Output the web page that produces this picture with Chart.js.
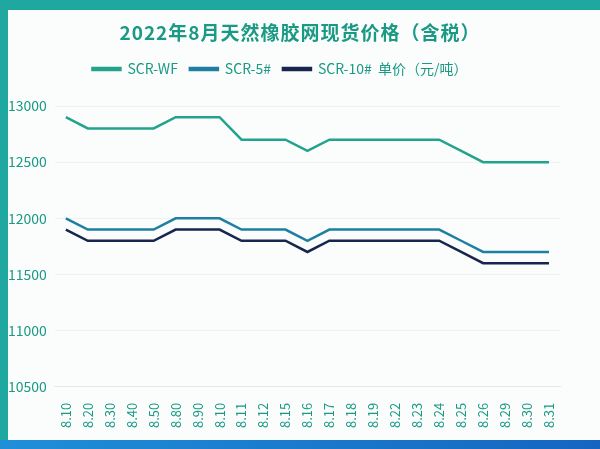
<!DOCTYPE html>
<html><head><meta charset="utf-8">
<script src="https://cdn.jsdelivr.net/npm/chart.js@4"></script>
<style>
html,body{margin:0;padding:0;width:600px;height:449px;overflow:hidden;background:#1fa8a0;}
#wrap{position:absolute;left:8px;top:10px;width:592px;height:430px;background:#fbfdfd;}
#bottom{position:absolute;left:0;top:440px;width:600px;height:9px;background:linear-gradient(90deg,#1f8fd8,#1565c0);}
h1{position:absolute;left:0;top:18px;width:600px;margin:0;text-align:center;font:bold 19px "Noto Sans CJK SC";color:#1a9a84;letter-spacing:1px;}
#c{position:absolute;left:0;top:0;}
</style></head><body>
<div id="wrap"></div><div id="bottom"></div>
<canvas id="c" width="600" height="449"></canvas>
<h1>2022年8月天然橡胶网现货价格（含税）</h1>
<script>
const labels = ['8.10','8.20','8.30','8.40','8.50','8.80','8.90','8.10','8.11','8.12','8.15','8.16','8.17','8.18','8.19','8.22','8.23','8.24','8.25','8.26','8.29','8.30','8.31'];
const scrWF = [12900,12800,12800,12800,12800,12900,12900,12900,12700,12700,12700,12600,12700,12700,12700,12700,12700,12700,12600,12500,12500,12500,12500];
const scr5 = [12000,11900,11900,11900,11900,12000,12000,12000,11900,11900,11900,11800,11900,11900,11900,11900,11900,11900,11800,11700,11700,11700,11700];
const scr10 = [11900,11800,11800,11800,11800,11900,11900,11900,11800,11800,11800,11700,11800,11800,11800,11800,11800,11800,11700,11600,11600,11600,11600];
const yTicks = [10500,11000,11500,12000,12500,13000];

const green = '#1a9a84';

// extra space under the legend
const legendGap = {
  id: 'legendGap',
  beforeInit(chart) {
    const fit = chart.legend.fit;
    chart.legend.fit = function () { fit.call(this); this.height += 20; };
  },
};

new Chart(document.getElementById('c'), {
  type: 'line',
  data: {
    labels,
    datasets: [
      { label: 'SCR-WF', data: scrWF, borderColor: '#22a48c', backgroundColor: '#22a48c' },
      { label: 'SCR-5#', data: scr5, borderColor: '#1f7fa3', backgroundColor: '#1f7fa3' },
      { label: 'SCR-10#  单价（元/吨）', data: scr10, borderColor: '#17254f', backgroundColor: '#17254f' },
    ].map(d => ({ ...d, borderWidth: 2.5, pointRadius: 0, tension: 0, fill: false })),
  },
  plugins: [legendGap],
  options: {
    responsive: false,
    animation: false,
    layout: { padding: { left: 0, right: 40, top: 50, bottom: 13 } },
    plugins: {
      legend: {
        labels: { boxWidth: 28, boxHeight: 2, color: green, font: { family: 'Noto Sans CJK SC', size: 14 }, padding: 12 },
      },
      tooltip: { enabled: false },
    },
    scales: {
      x: {
        offset: true,
        grid: { display: false },
        border: { color: '#e4e8ea' },
        ticks: { color: green, maxRotation: 90, minRotation: 90, autoSkip: false, padding: 8, font: { family: 'Noto Sans CJK SC', size: 13 } },
      },
      y: {
        min: 10500, max: 13000,
        afterBuildTicks: ax => { ax.ticks = yTicks.map(v => ({ value: v })); },
        grid: { color: '#eef1f2', drawTicks: false },
        border: { display: false },
        ticks: { color: green, padding: 8, callback: v => String(v), font: { family: 'Noto Sans CJK SC', size: 14 } },
      },
    },
  },
});
</script>
</body></html>
